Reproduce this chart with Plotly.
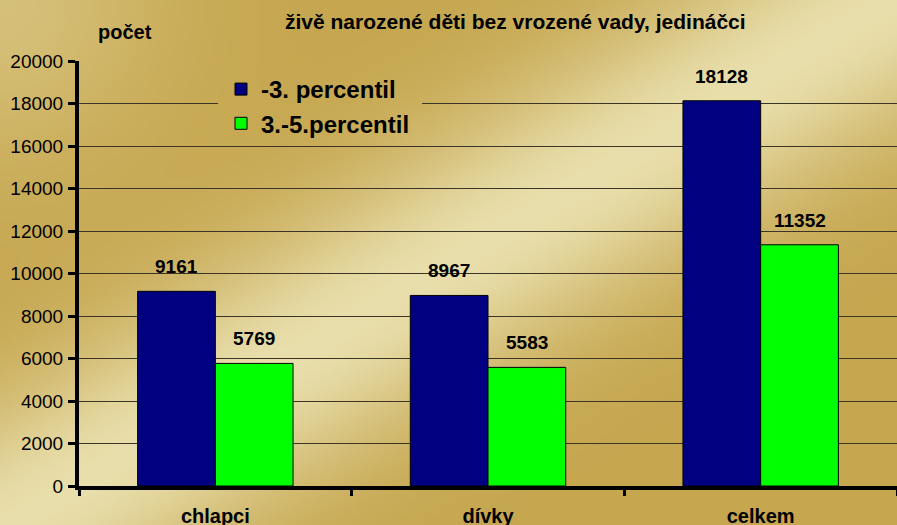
import base64
import struct
import zlib

import numpy as np
import plotly.graph_objects as go

# ---------------- data ----------------
categories = ["chlapci", "dívky", "celkem"]
series_names = ["-3. percentil", "3.-5.percentil"]
below_p3 = [9161, 8967, 18128]
p3_to_p5 = [5769, 5583, 11352]
y_tick_values = [0, 2000, 4000, 6000, 8000, 10000, 12000, 14000, 16000, 18000, 20000]

chart_title = "živě narozené děti bez vrozené vady, jedináčci"
y_axis_label = "počet"

# ---------------- geometry ----------------
W, H = 897, 525
ML, MR, MT, MB = 79, 0, 61, 39
PW = W - ML - MR
PH = H - MT - MB

FONT = "Arial, Liberation Sans, sans-serif"

# ---------------- gold textured background ----------------
DARK = np.array([198, 167, 80], dtype=float)
LIGHT = np.array([233, 223, 172], dtype=float)


def light_factor(x, y):
    # diagonal light band from lower-left to upper-right
    nx, ny = 0.512, 0.859
    d = (x - 170) * nx + (y - 430) * ny
    band = np.exp(-(d / 115.0) ** 2)
    corner = 0.45 * np.exp(-((x ** 2 + y ** 2) / 160.0 ** 2))
    return np.clip(band + corner, 0, 1)


def bg_color(x, y):
    t = light_factor(np.asarray(x, float), np.asarray(y, float))
    return DARK + (LIGHT - DARK) * np.asarray(t)[..., None]


def png_uri(arr):
    h, w, _ = arr.shape
    raw = b"".join(b"\x00" + arr[i].tobytes() for i in range(h))

    def chunk(tag, data):
        c = struct.pack(">I", len(data)) + tag + data
        return c + struct.pack(">I", zlib.crc32(tag + data) & 0xFFFFFFFF)

    png = b"\x89PNG\r\n\x1a\n"
    png += chunk(b"IHDR", struct.pack(">IIBBBBB", w, h, 8, 2, 0, 0, 0))
    png += chunk(b"IDAT", zlib.compress(raw, 9))
    png += chunk(b"IEND", b"")
    return "data:image/png;base64," + base64.b64encode(png).decode()


def bg_image(x0, y0, x1, y1, nx, ny):
    gx, gy = np.meshgrid(np.linspace(x0, x1, nx), np.linspace(y0, y1, ny))
    return png_uri(np.clip(bg_color(gx, gy), 0, 255).astype(np.uint8))


def px_x(x):
    return (x - ML) / PW


def px_y(y):
    return (H - MB - y) / PH


# full background
bg_full = bg_image(0, 0, W, H, 300, 176)
# patch behind the legend (hides gridlines, keeps the texture)
LX0, LY0, LX1, LY1 = 218, 66, 422, 142
bg_legend = bg_image(LX0, LY0, LX1, LY1, 102, 38)

# ---------------- figure ----------------
fig = go.Figure()
fig.add_trace(go.Bar(
    x=categories, y=below_p3, name=series_names[0], legendgroup="a",
    marker=dict(color="#000080", line=dict(color="black", width=1)),
))
fig.add_trace(go.Bar(
    x=categories, y=p3_to_p5, name=series_names[1], legendgroup="b",
    marker=dict(color="#00ff00", line=dict(color="black", width=1)),
))

bar_half = PW / len(categories) * (1 - 0.43) / 4
annotations = []
for vals, shift in ((below_p3, -bar_half), (p3_to_p5, bar_half)):
    for c, v in zip(categories, vals):
        annotations.append(dict(
            x=c, y=v, xref="x", yref="y", text=str(v), showarrow=False,
            xshift=shift, yshift=12, yanchor="bottom",
            font=dict(family=FONT, size=19, color="black", weight="bold"),
        ))

annotations.append(dict(
    text=chart_title, xref="paper", yref="paper",
    x=px_x(515), y=px_y(22), xanchor="center", yanchor="middle",
    showarrow=False, font=dict(family=FONT, size=21, color="black", weight="bold"),
))
annotations.append(dict(
    text=y_axis_label, xref="paper", yref="paper",
    x=px_x(125), y=px_y(32), xanchor="center", yanchor="middle",
    showarrow=False, font=dict(family=FONT, size=20, color="black", weight="bold"),
))

fig.update_layout(
    width=W, height=H,
    margin=dict(l=ML, r=MR, t=MT, b=MB, pad=0, autoexpand=False),
    paper_bgcolor="#d6bf73",
    plot_bgcolor="rgba(0,0,0,0)",
    barmode="group", bargap=0.43, bargroupgap=0,
    font=dict(family=FONT, color="black"),
    showlegend=True,
    legend=dict(
        x=px_x(221), y=px_y(67), xanchor="left", yanchor="top",
        bgcolor="rgba(0,0,0,0)", borderwidth=0,
        font=dict(family=FONT, size=24, color="black", weight="bold"),
        tracegroupgap=3, traceorder="normal",
    ),
    images=[
        dict(source=bg_full, xref="paper", yref="paper",
             x=px_x(0), y=px_y(0), sizex=W / PW, sizey=H / PH,
             xanchor="left", yanchor="top", sizing="stretch", layer="below"),
        dict(source=bg_legend, xref="paper", yref="paper",
             x=px_x(LX0), y=px_y(LY0), sizex=(LX1 - LX0) / PW, sizey=(LY1 - LY0) / PH,
             xanchor="left", yanchor="top", sizing="stretch", layer="above"),
    ],
    annotations=annotations,
    xaxis=dict(
        type="category", showgrid=False, zeroline=False, automargin=False,
        showline=True, linewidth=4, linecolor="black",
        ticks="outside", tickson="boundaries", ticklen=6, tickwidth=3, tickcolor="black",
        tickfont=dict(family=FONT, size=20, color="black", weight="bold"),
        ticklabelstandoff=9,
    ),
    yaxis=dict(
        range=[0, 20000], tickvals=y_tick_values, ticktext=[str(v) for v in y_tick_values],
        automargin=False,
        showgrid=True, gridcolor="#3b3427", gridwidth=1, zeroline=False,
        showline=True, linewidth=4, linecolor="black",
        ticks="outside", ticklen=7, tickwidth=3, tickcolor="black",
        tickfont=dict(family=FONT, size=19, color="black"),
        ticklabelstandoff=1,
    ),
)

fig.write_html("out.html", config={"displayModeBar": False},
               post_script="document.body.style.margin='0';")
